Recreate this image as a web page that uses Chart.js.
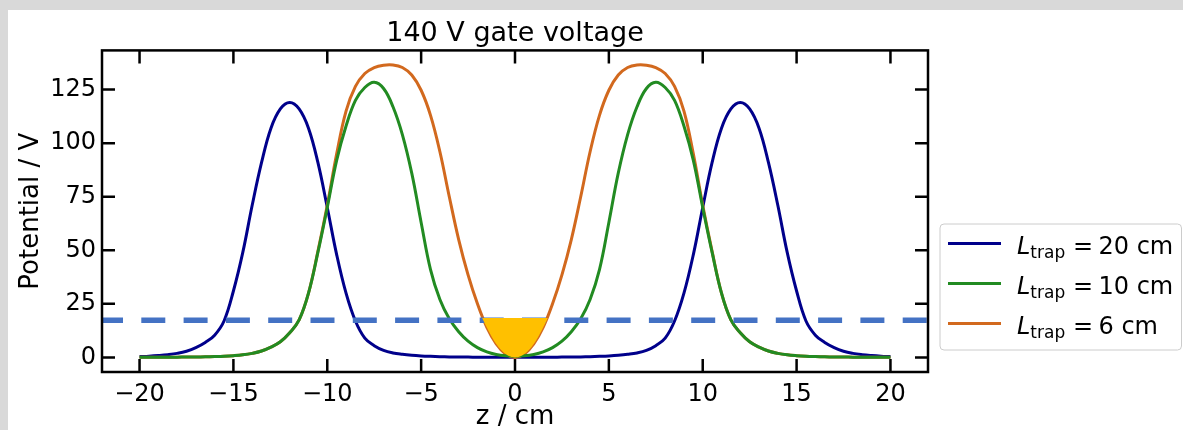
<!DOCTYPE html>
<html>
<head>
<meta charset="utf-8">
<script src="https://cdn.jsdelivr.net/npm/chart.js@4/dist/chart.umd.min.js"></script>
<style>
  html, body { margin: 0; padding: 0; background: #d9d9d9; overflow: hidden; }
  #wrap { position: absolute; left: 8px; top: 10px; width: 1175px; height: 420px; background: #fff; }
</style>
</head>
<body>
<div id="wrap"><canvas id="chart"></canvas></div>
<script>
// positions along the trap axis (cm)
const zValues = [
    -20, -19.5, -19, -18.5, -18, -17.5, -17, -16.5, -16, -15.5,
    -15, -14.5, -14, -13.5, -13, -12.5, -12, -11.5, -11, -10.5,
    -10, -9.5, -9, -8.5, -8, -7.5, -7, -6.5, -6, -5.5,
    -5, -4.5, -4, -3.5, -3, -2.5, -2, -1.5, -1, -0.5,
    0,
    0.5, 1, 1.5, 2, 2.5, 3, 3.5, 4, 4.5, 5,
    5.5, 6, 6.5, 7, 7.5, 8, 8.5, 9, 9.5, 10,
    10.5, 11, 11.5, 12, 12.5, 13, 13.5, 14, 14.5, 15,
    15.5, 16, 16.5, 17, 17.5, 18, 18.5, 19, 19.5, 20
];

// potential (V) for L_trap = 20 cm
const potential20 = [
    0.4, 0.6, 0.9, 1.3, 1.9, 2.9, 4.6, 7.0, 10.4, 17,
    31, 49, 71, 91, 107, 116, 119, 116, 107, 91,
    70, 48, 30, 17, 9, 5.5, 3.3, 2.1, 1.45, 1.0,
    0.7, 0.5, 0.35, 0.25, 0.2, 0.15, 0.12, 0.1, 0.1, 0.1,
    0.1,
    0.1, 0.1, 0.1, 0.12, 0.15, 0.2, 0.25, 0.35, 0.5, 0.7,
    1.0, 1.45, 2.1, 3.3, 5.5, 9, 17, 30, 48, 70,
    91, 107, 116, 119, 116, 107, 91, 71, 49, 31,
    17, 10.4, 7.0, 4.6, 2.9, 1.9, 1.3, 0.9, 0.6, 0.4
];

// potential (V) for L_trap = 10 cm
const potential10 = [
    0.05, 0.06, 0.08, 0.1, 0.13, 0.17, 0.22, 0.3, 0.4, 0.55,
    0.8, 1.2, 1.9, 3.0, 4.8, 7.3, 11.5, 17.5, 30, 49,
    70, 92, 108, 120, 126, 128.4, 125.5, 117, 104, 86,
    63, 41, 27, 18, 12, 7.6, 4.6, 2.6, 1.4, 0.8,
    0.6,
    0.8, 1.4, 2.6, 4.6, 7.6, 12, 18, 27, 41, 63,
    86, 104, 117, 125.5, 128.4, 126, 120, 108, 92, 70,
    49, 30, 17.5, 11.5, 7.3, 4.8, 3.0, 1.9, 1.2, 0.8,
    0.55, 0.4, 0.3, 0.22, 0.17, 0.13, 0.1, 0.08, 0.06, 0.05
];

// potential (V) for L_trap = 6 cm
const potential6 = [
    0.05, 0.06, 0.08, 0.1, 0.13, 0.17, 0.22, 0.3, 0.4, 0.55,
    0.8, 1.2, 1.9, 3.0, 4.8, 7.3, 11.5, 17.5, 30, 49.5,
    71, 95, 115, 126.5, 132.5, 135.3, 136.4, 136.5, 135.3, 131.8,
    124.7, 113, 96, 75, 55, 38.5, 25, 14, 6.3, 1.6,
    0,
    1.6, 6.3, 14, 25, 38.5, 55, 75, 96, 113, 124.7,
    131.8, 135.3, 136.5, 136.4, 135.3, 132.5, 126.5, 115, 95, 71,
    49.5, 30, 17.5, 11.5, 7.3, 4.8, 3.0, 1.9, 1.2, 0.8,
    0.55, 0.4, 0.3, 0.22, 0.17, 0.13, 0.1, 0.08, 0.06, 0.05
];

// trapped region at the bottom of the 6 cm well
const wellZ = [-1.75, -1.5, -1.25, -1, -0.75, -0.5, -0.25, 0, 0.25, 0.5, 0.75, 1, 1.25, 1.5, 1.75];
const wellV = [18.4, 14, 9.8, 6.3, 3.6, 1.6, 0.4, 0, 0.4, 1.6, 3.6, 6.3, 9.8, 14, 18.4];
const wellTop = 18.4;

// dashed energy level
const levelZ = [-22, 22];
const levelV = 17.3;

const trapLengths = [20, 10, 6];
const lineColors = ['#00008b', '#228b22', '#d2691e'];
const xTicks = [-20, -15, -10, -5, 0, 5, 10, 15, 20];
const yTicks = [0, 25, 50, 75, 100, 125];

const toPoints = (zs, vs) => zs.map((z, i) => ({ x: z, y: vs[i] }));
const minusSign = v => String(v).replace('-', '\u2212');

Chart.defaults.font.family = '"DejaVu Sans", sans-serif';
Chart.defaults.color = '#000';

// inward ticks on all four sides plus the box
const frameTicks = {
    id: 'frameTicks',
    afterDatasetsDraw(chart) {
        const { ctx, chartArea: a, scales: { x, y } } = chart;
        const len = 13;
        ctx.save();
        ctx.strokeStyle = '#000';
        ctx.lineWidth = 2.5;
        ctx.beginPath();
        x.ticks.forEach(t => {
            const px = x.getPixelForValue(t.value);
            ctx.moveTo(px, a.bottom); ctx.lineTo(px, a.bottom - len);
            ctx.moveTo(px, a.top); ctx.lineTo(px, a.top + len);
        });
        y.ticks.forEach(t => {
            const py = y.getPixelForValue(t.value);
            ctx.moveTo(a.left, py); ctx.lineTo(a.left + len, py);
            ctx.moveTo(a.right, py); ctx.lineTo(a.right - len, py);
        });
        ctx.stroke();
        ctx.strokeRect(a.left, a.top, a.right - a.left, a.bottom - a.top);
        ctx.restore();
    }
};

// legend with italic L and subscript "trap"
const trapLegend = {
    id: 'trapLegend',
    afterDraw(chart) {
        const ctx = chart.ctx;
        const bx = chart.chartArea.right + 12, by = 214, bw = 241.5, bh = 126;
        ctx.save();
        ctx.beginPath();
        ctx.roundRect(bx, by, bw, bh, 4);
        ctx.fillStyle = 'rgba(255,255,255,0.8)';
        ctx.fill();
        ctx.strokeStyle = '#cccccc';
        ctx.lineWidth = 1;
        ctx.stroke();

        trapLengths.forEach((len, i) => {
            const ly = by + 19.5 + i * 40;
            ctx.strokeStyle = lineColors[i];
            ctx.lineWidth = 3;
            ctx.beginPath();
            ctx.moveTo(bx + 8, ly);
            ctx.lineTo(bx + 61, ly);
            ctx.stroke();

            const tx = bx + 77, base = ly + 10;
            ctx.fillStyle = '#000';
            ctx.textBaseline = 'alphabetic';
            ctx.textAlign = 'left';
            ctx.font = 'italic 24px "DejaVu Sans"';
            ctx.fillText('L', tx, base);
            const lw = ctx.measureText('L').width;
            ctx.font = '17px "DejaVu Sans"';
            ctx.fillText('trap', tx + lw, base + 4.5);
            ctx.font = '24px "DejaVu Sans"';
            ctx.fillText('=', tx + 56, base);
            ctx.fillText(len + ' cm', tx + 81.5, base);
        });
        ctx.restore();
    }
};

const datasets = [
    {
        label: 'L_trap = 20 cm',
        data: toPoints(zValues, potential20),
        borderColor: lineColors[0],
        borderWidth: 3,
        order: 4
    },
    {
        label: 'L_trap = 10 cm',
        data: toPoints(zValues, potential10),
        borderColor: lineColors[1],
        borderWidth: 3,
        order: 2
    },
    {
        label: 'L_trap = 6 cm',
        data: toPoints(zValues, potential6),
        borderColor: lineColors[2],
        borderWidth: 3,
        order: 3
    },
    {
        label: 'level',
        data: levelZ.map(z => ({ x: z, y: levelV })),
        borderColor: '#4472c4',
        borderWidth: 5.5,
        borderDash: [24, 18.3],
        borderDashOffset: 3,
        borderCapStyle: 'butt',
        tension: 0,
        order: 1
    },
    {
        label: 'well',
        data: toPoints(wellZ, wellV),
        borderWidth: 0,
        borderColor: 'rgba(0,0,0,0)',
        backgroundColor: '#ffc000',
        fill: { value: wellTop },
        order: 0
    }
];

new Chart(document.getElementById('chart'), {
    type: 'line',
    data: { datasets },
    options: {
        responsive: true,
        maintainAspectRatio: false,
        animation: false,
        layout: { padding: { left: 0, right: 255, top: 0, bottom: 0 } },
        elements: {
            point: { radius: 0 },
            line: { tension: 0.4 }
        },
        scales: {
            x: {
                type: 'linear',
                min: -22,
                max: 22,
                grid: { display: false, drawTicks: false },
                border: { display: false },
                afterBuildTicks: s => { s.ticks = xTicks.map(v => ({ value: v })); },
                afterFit: s => { s.height = 58; },
                ticks: {
                    font: { size: 24 },
                    padding: 8,
                    maxRotation: 0,
                    callback: v => minusSign(v)
                },
                title: {
                    display: true,
                    text: 'z / cm',
                    font: { size: 26 },
                    padding: { top: 0, bottom: -3 }
                }
            },
            y: {
                type: 'linear',
                min: -6.8,
                max: 143.3,
                grid: { display: false, drawTicks: false },
                border: { display: false },
                afterBuildTicks: s => { s.ticks = yTicks.map(v => ({ value: v })); },
                afterFit: s => { s.width = 94; },
                ticks: {
                    font: { size: 24 },
                    padding: 6,
                    callback: v => minusSign(v)
                },
                title: {
                    display: true,
                    text: 'Potential / V',
                    font: { size: 26 },
                    padding: { top: 8, bottom: 0 }
                }
            }
        },
        plugins: {
            legend: { display: false },
            tooltip: { enabled: false },
            title: {
                display: true,
                text: '140 V gate voltage',
                fullSize: false,
                font: { size: 27, weight: 'normal' },
                padding: { top: 8, bottom: 0 }
            }
        }
    },
    plugins: [frameTicks, trapLegend]
});
</script>
</body>
</html>
